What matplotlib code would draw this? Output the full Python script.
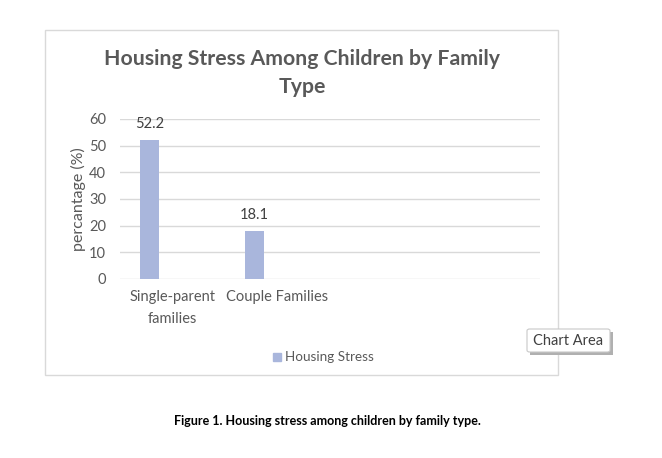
import matplotlib.pyplot as plt
from matplotlib.patches import Rectangle, FancyBboxPatch

categories = ["Single-parent\nfamilies", "Couple Families", "", ""]
housing_stress = [52.2, 18.1]
y_ticks = [0, 10, 20, 30, 40, 50, 60]

W, H = 662, 458
grey = "#595959"
bar_col = "#a9b6dc"
grid_col = "#d9d9d9"

plt.rcParams["font.family"] = ["Lato", "DejaVu Sans"]

fig = plt.figure(figsize=(W / 100, H / 100), dpi=100)

def fx(px):
    return px / W

def fy(py):
    return 1 - py / H

# chart area frame
fig.patches.append(Rectangle((fx(45), fy(375)), fx(558) - fx(45), fy(30) - fy(375),
                             transform=fig.transFigure, fill=False,
                             edgecolor=grid_col, lw=1))

ax = fig.add_axes([fx(120), fy(279), fx(540) - fx(120), fy(119) - fy(279)])
xs = [i - 0.219 for i in range(len(housing_stress))]
bars = ax.bar(xs, housing_stress, width=0.181, color=bar_col, label="Housing Stress", zorder=2)
for x, v in zip(xs, housing_stress):
    ax.text(x, v + 3.2, f"{v}", ha="center", va="bottom", fontsize=10.5, color="#404040")

ax.set_xlim(-0.5, len(categories) - 0.5)
ax.set_ylim(0, 60)
ax.set_yticks(y_ticks)
ax.set_xticks(range(len(categories)))
ax.set_xticklabels(categories, fontsize=10.5, color=grey, linespacing=1.75)
ax.tick_params(axis="y", labelsize=10.5, labelcolor=grey, length=0, pad=10)
ax.tick_params(axis="x", length=0, pad=8)
ax.grid(axis="y", color=grid_col, lw=1, zorder=0)
for s in ax.spines.values():
    s.set_visible(False)
ax.set_ylabel("percantage (%)", fontsize=11.5, color=grey)
ax.yaxis.set_label_coords(-0.082, 0.5)

fig.text(fx(302), fy(59), "Housing Stress Among Children by Family", ha="center", va="center",
         fontsize=15.3, fontweight="bold", color=grey)
fig.text(fx(302), fy(87), "Type", ha="center", va="center",
         fontsize=15.3, fontweight="bold", color=grey)

# legend
fig.patches.append(Rectangle((fx(273), fy(361)), fx(8), fy(0) - fy(8) + 0,
                             transform=fig.transFigure, color=bar_col))
fig.text(fx(285), fy(357), "Housing Stress", ha="left", va="center", fontsize=9.7, color=grey)

# tooltip
fig.patches.append(Rectangle((fx(530), fy(355)), fx(83), fy(0) - fy(23),
                             transform=fig.transFigure, facecolor="#b0b0b0",
                             edgecolor="none"))
fig.patches.append(FancyBboxPatch((fx(527), fy(352)), fx(83), fy(0) - fy(23),
                                  boxstyle="round,pad=0,rounding_size=0.004",
                                  transform=fig.transFigure, facecolor="white",
                                  edgecolor="#c8c8c8", lw=0.8))
fig.text(fx(568.5), fy(341), "Chart Area", ha="center", va="center", fontsize=10.5, color="#404040")

fig.text(fx(327), fy(421), "Figure 1. Housing stress among children by family type.",
         ha="center", va="center", fontsize=9, fontweight="bold", color="black")

fig.savefig("out.png", dpi=100)
